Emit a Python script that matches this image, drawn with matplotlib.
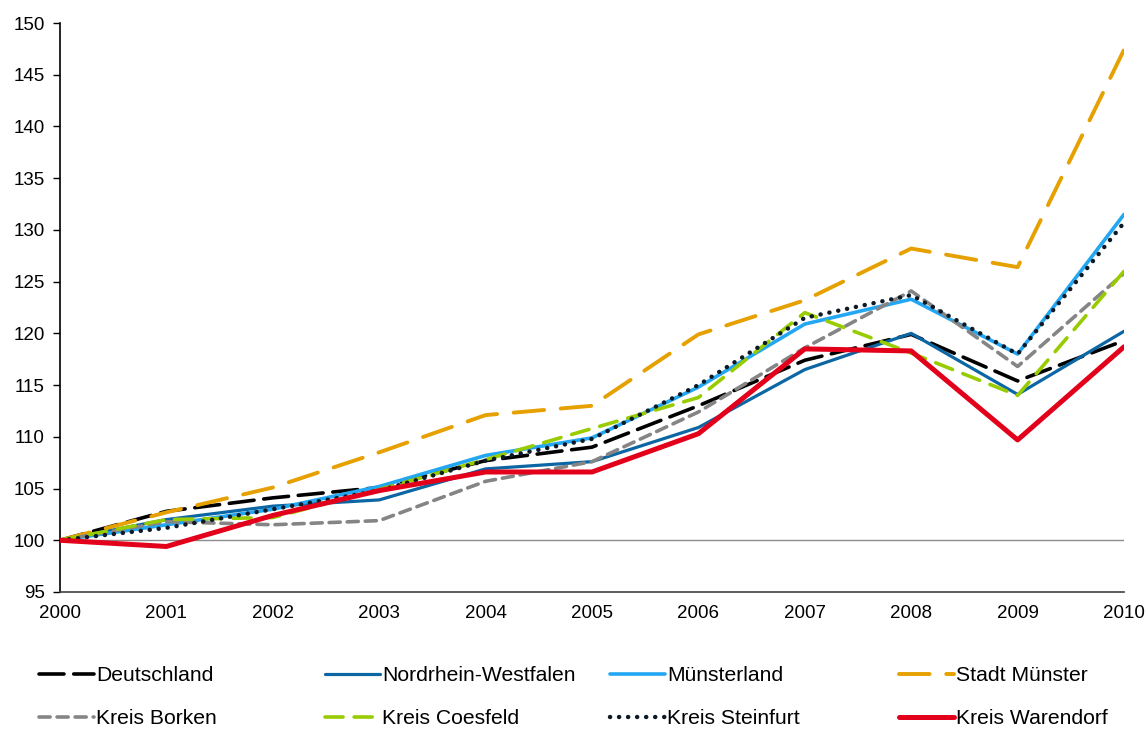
import matplotlib
matplotlib.use('Agg')
import matplotlib.pyplot as plt

plt.rcParams['font.family'] = ['Liberation Sans', 'DejaVu Sans']
plt.rcParams['lines.scale_dashes'] = False

# ============================================
# DATA (index, 2000 = 100)
# ============================================
years = list(range(2000, 2011))

deutschland = [100, 102.8, 104.1, 105.1, 107.7, 109.0, 113.0, 117.4, 119.9, 115.4, 119.3]
nrw = [100, 102.0, 103.3, 103.9, 106.9, 107.6, 110.9, 116.5, 120.0, 114.1, 120.2]
muensterland = [100, 101.5, 103.0, 105.2, 108.2, 109.9, 114.8, 120.9, 123.3, 118.0, 131.5]
stadt_muenster = [100, 102.7, 105.1, 108.5, 112.1, 113.0, 119.9, 123.2, 128.2, 126.4, 147.4]
kreis_borken = [100, 101.8, 101.5, 101.9, 105.7, 107.6, 112.4, 118.6, 124.1, 116.8, 125.8]
kreis_coesfeld = [100, 102.0, 102.2, 104.9, 107.8, 110.8, 113.8, 122.0, 118.1, 114.0, 126.0]
kreis_steinfurt = [100, 101.2, 103.0, 104.8, 107.7, 109.8, 115.0, 121.5, 123.7, 118.0, 130.7]
kreis_warendorf = [100, 99.4, 102.4, 104.8, 106.6, 106.6, 110.3, 118.5, 118.3, 109.7, 118.7]

y_ticks = list(range(95, 151, 5))

# label, values, color, linewidth (pt), linestyle
series = [
    ('Deutschland', deutschland, '#000000', 2.6, (0, (18, 7))),
    ('Nordrhein-Westfalen', nrw, '#0b66a3', 2.3, '-'),
    ('Münsterland', muensterland, '#23a7f2', 2.6, '-'),
    ('Stadt Münster', stadt_muenster, '#e6a000', 2.8, (0, (22, 12))),
    ('Kreis Borken', kreis_borken, '#858585', 2.6, (0, (8, 5))),
    ('Kreis Coesfeld', kreis_coesfeld, '#99cc00', 2.6, (0, (13, 8))),
    ('Kreis Steinfurt', kreis_steinfurt, '#0d1a26', 3.2, (0, (0.1, 6.4))),
    ('Kreis Warendorf', kreis_warendorf, '#e3001b', 3.6, '-'),
]

fig = plt.figure(figsize=(11.48, 7.34), dpi=100)
ax = fig.add_axes([60 / 1148, 1 - 592 / 734, 1064 / 1148, 569 / 734])

# reference line at 100
ax.axhline(100, color='#8c8c8c', lw=1.0, zorder=1)

handles = {}
for label, vals, color, lw, ls in series:
    line, = ax.plot(years, vals, color=color, lw=lw, linestyle=ls,
                    solid_capstyle='round', dash_capstyle='round',
                    solid_joinstyle='round', label=label, zorder=3)
    handles[label] = line

ax.set_xlim(2000, 2010)
ax.set_ylim(95, 150)
ax.set_yticks(y_ticks)
ax.set_xticks(years)
ax.tick_params(axis='y', direction='out', length=5, width=1, labelsize=13.5, pad=6)
ax.tick_params(axis='x', length=0, labelsize=13.5, pad=9)
for s in ['top', 'right']:
    ax.spines[s].set_visible(False)
ax.spines['left'].set_linewidth(1.2)
ax.spines['bottom'].set_linewidth(1.2)
ax.spines['bottom'].set_color('#404040')

# ============================================
# LEGEND: four columns of two entries each
# ============================================
columns = [
    ['Deutschland', 'Kreis Borken'],
    ['Nordrhein-Westfalen', 'Kreis Coesfeld'],
    ['Münsterland', 'Kreis Steinfurt'],
    ['Stadt Münster', 'Kreis Warendorf'],
]
col_x = [35, 321, 606, 895]
for cx, names in zip(col_x, columns):
    fig.legend([handles[n] for n in names], names,
               loc='upper left', bbox_to_anchor=(cx / 1148, 1 - 662 / 734),
               frameon=False, fontsize=15.2, handlelength=2.6,
               handletextpad=0.1, labelspacing=1.15, borderaxespad=0,
               borderpad=0.2)

fig.savefig('out.png', dpi=100)
